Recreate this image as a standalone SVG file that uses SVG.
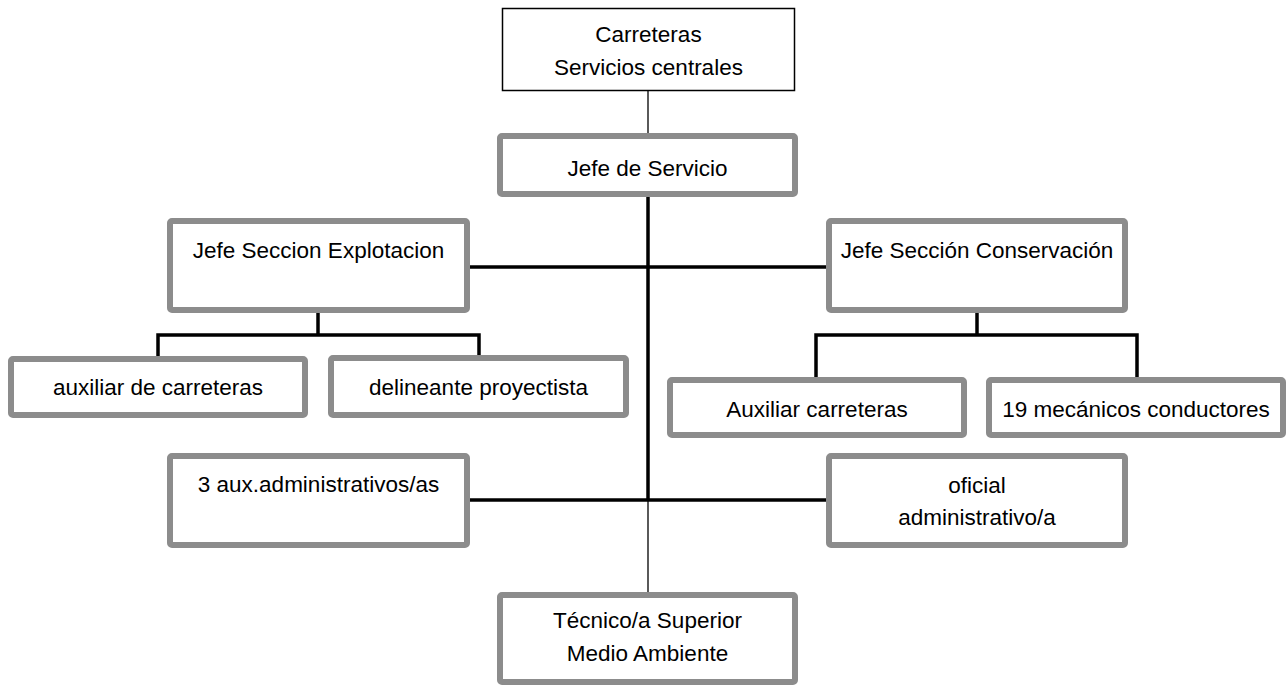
<svg xmlns="http://www.w3.org/2000/svg" width="1288" height="686" viewBox="0 0 1288 686">
<style>
.box{fill:#fff;stroke:#8c8c8c;stroke-width:6;}
.top{fill:#fff;stroke:#000;stroke-width:1.5;}
.t{font-family:"Liberation Sans",Arial,sans-serif;font-size:22.5px;fill:#000;text-anchor:middle;}
.thick{stroke:#000;stroke-width:3.5;fill:none;}
.thin{stroke:#000;stroke-width:1.3;fill:none;}
</style>
<rect width="1288" height="686" fill="#fff"/>
<g id="connectors">
<line class="thin" x1="648" y1="91" x2="648" y2="134"/>
<line class="thick" x1="648" y1="197" x2="648" y2="500"/>
<line class="thin" x1="648" y1="500" x2="648" y2="593"/>
<line class="thick" x1="470" y1="267" x2="826" y2="267"/>
<line class="thick" x1="470" y1="500" x2="826" y2="500"/>
<polyline class="thick" points="318,313 318,335"/>
<polyline class="thick" points="158,357 158,335 479,335 479,356"/>
<polyline class="thick" points="977,313 977,335"/>
<polyline class="thick" points="816,378 816,335 1137,335 1137,378"/>
</g>
<g id="n-carreteras">
<rect class="top" x="502.5" y="8.5" width="292" height="82"/>
<text class="t" x="648.5" y="42">Carreteras</text>
<text class="t" x="648.5" y="75">Servicios centrales</text>
</g>
<g id="n-jefe-servicio">
<rect class="box" x="500" y="136" width="295" height="58" rx="2"/>
<text class="t" x="647.5" y="176">Jefe de Servicio</text>
</g>
<g id="n-explotacion">
<rect class="box" x="170" y="221" width="297" height="89" rx="2"/>
<text class="t" x="318.5" y="258">Jefe Seccion Explotacion</text>
</g>
<g id="n-conservacion">
<rect class="box" x="829" y="221" width="296" height="89" rx="2"/>
<text class="t" x="977" y="258">Jefe Sección Conservación</text>
</g>
<g id="n-auxiliar-de-carreteras">
<rect class="box" x="11" y="359" width="294" height="56" rx="2"/>
<text class="t" x="158" y="395">auxiliar de carreteras</text>
</g>
<g id="n-delineante">
<rect class="box" x="331" y="358" width="295" height="57" rx="2"/>
<text class="t" x="478.5" y="395">delineante proyectista</text>
</g>
<g id="n-auxiliar-carreteras">
<rect class="box" x="670" y="380" width="294" height="55" rx="2"/>
<text class="t" x="817" y="417">Auxiliar carreteras</text>
</g>
<g id="n-mecanicos">
<rect class="box" x="989" y="380" width="294" height="55" rx="2"/>
<text class="t" x="1136" y="417">19 mecánicos conductores</text>
</g>
<g id="n-aux-admin">
<rect class="box" x="170" y="456" width="297" height="89" rx="2"/>
<text class="t" x="318.5" y="492">3 aux.administrativos/as</text>
</g>
<g id="n-oficial">
<rect class="box" x="829" y="456" width="296" height="89" rx="2"/>
<text class="t" x="977" y="493">oficial</text>
<text class="t" x="977" y="525">administrativo/a</text>
</g>
<g id="n-tecnico">
<rect class="box" x="500" y="595" width="295" height="87" rx="2"/>
<text class="t" x="647.5" y="628">Técnico/a Superior</text>
<text class="t" x="647.5" y="661">Medio Ambiente</text>
</g>
</svg>
